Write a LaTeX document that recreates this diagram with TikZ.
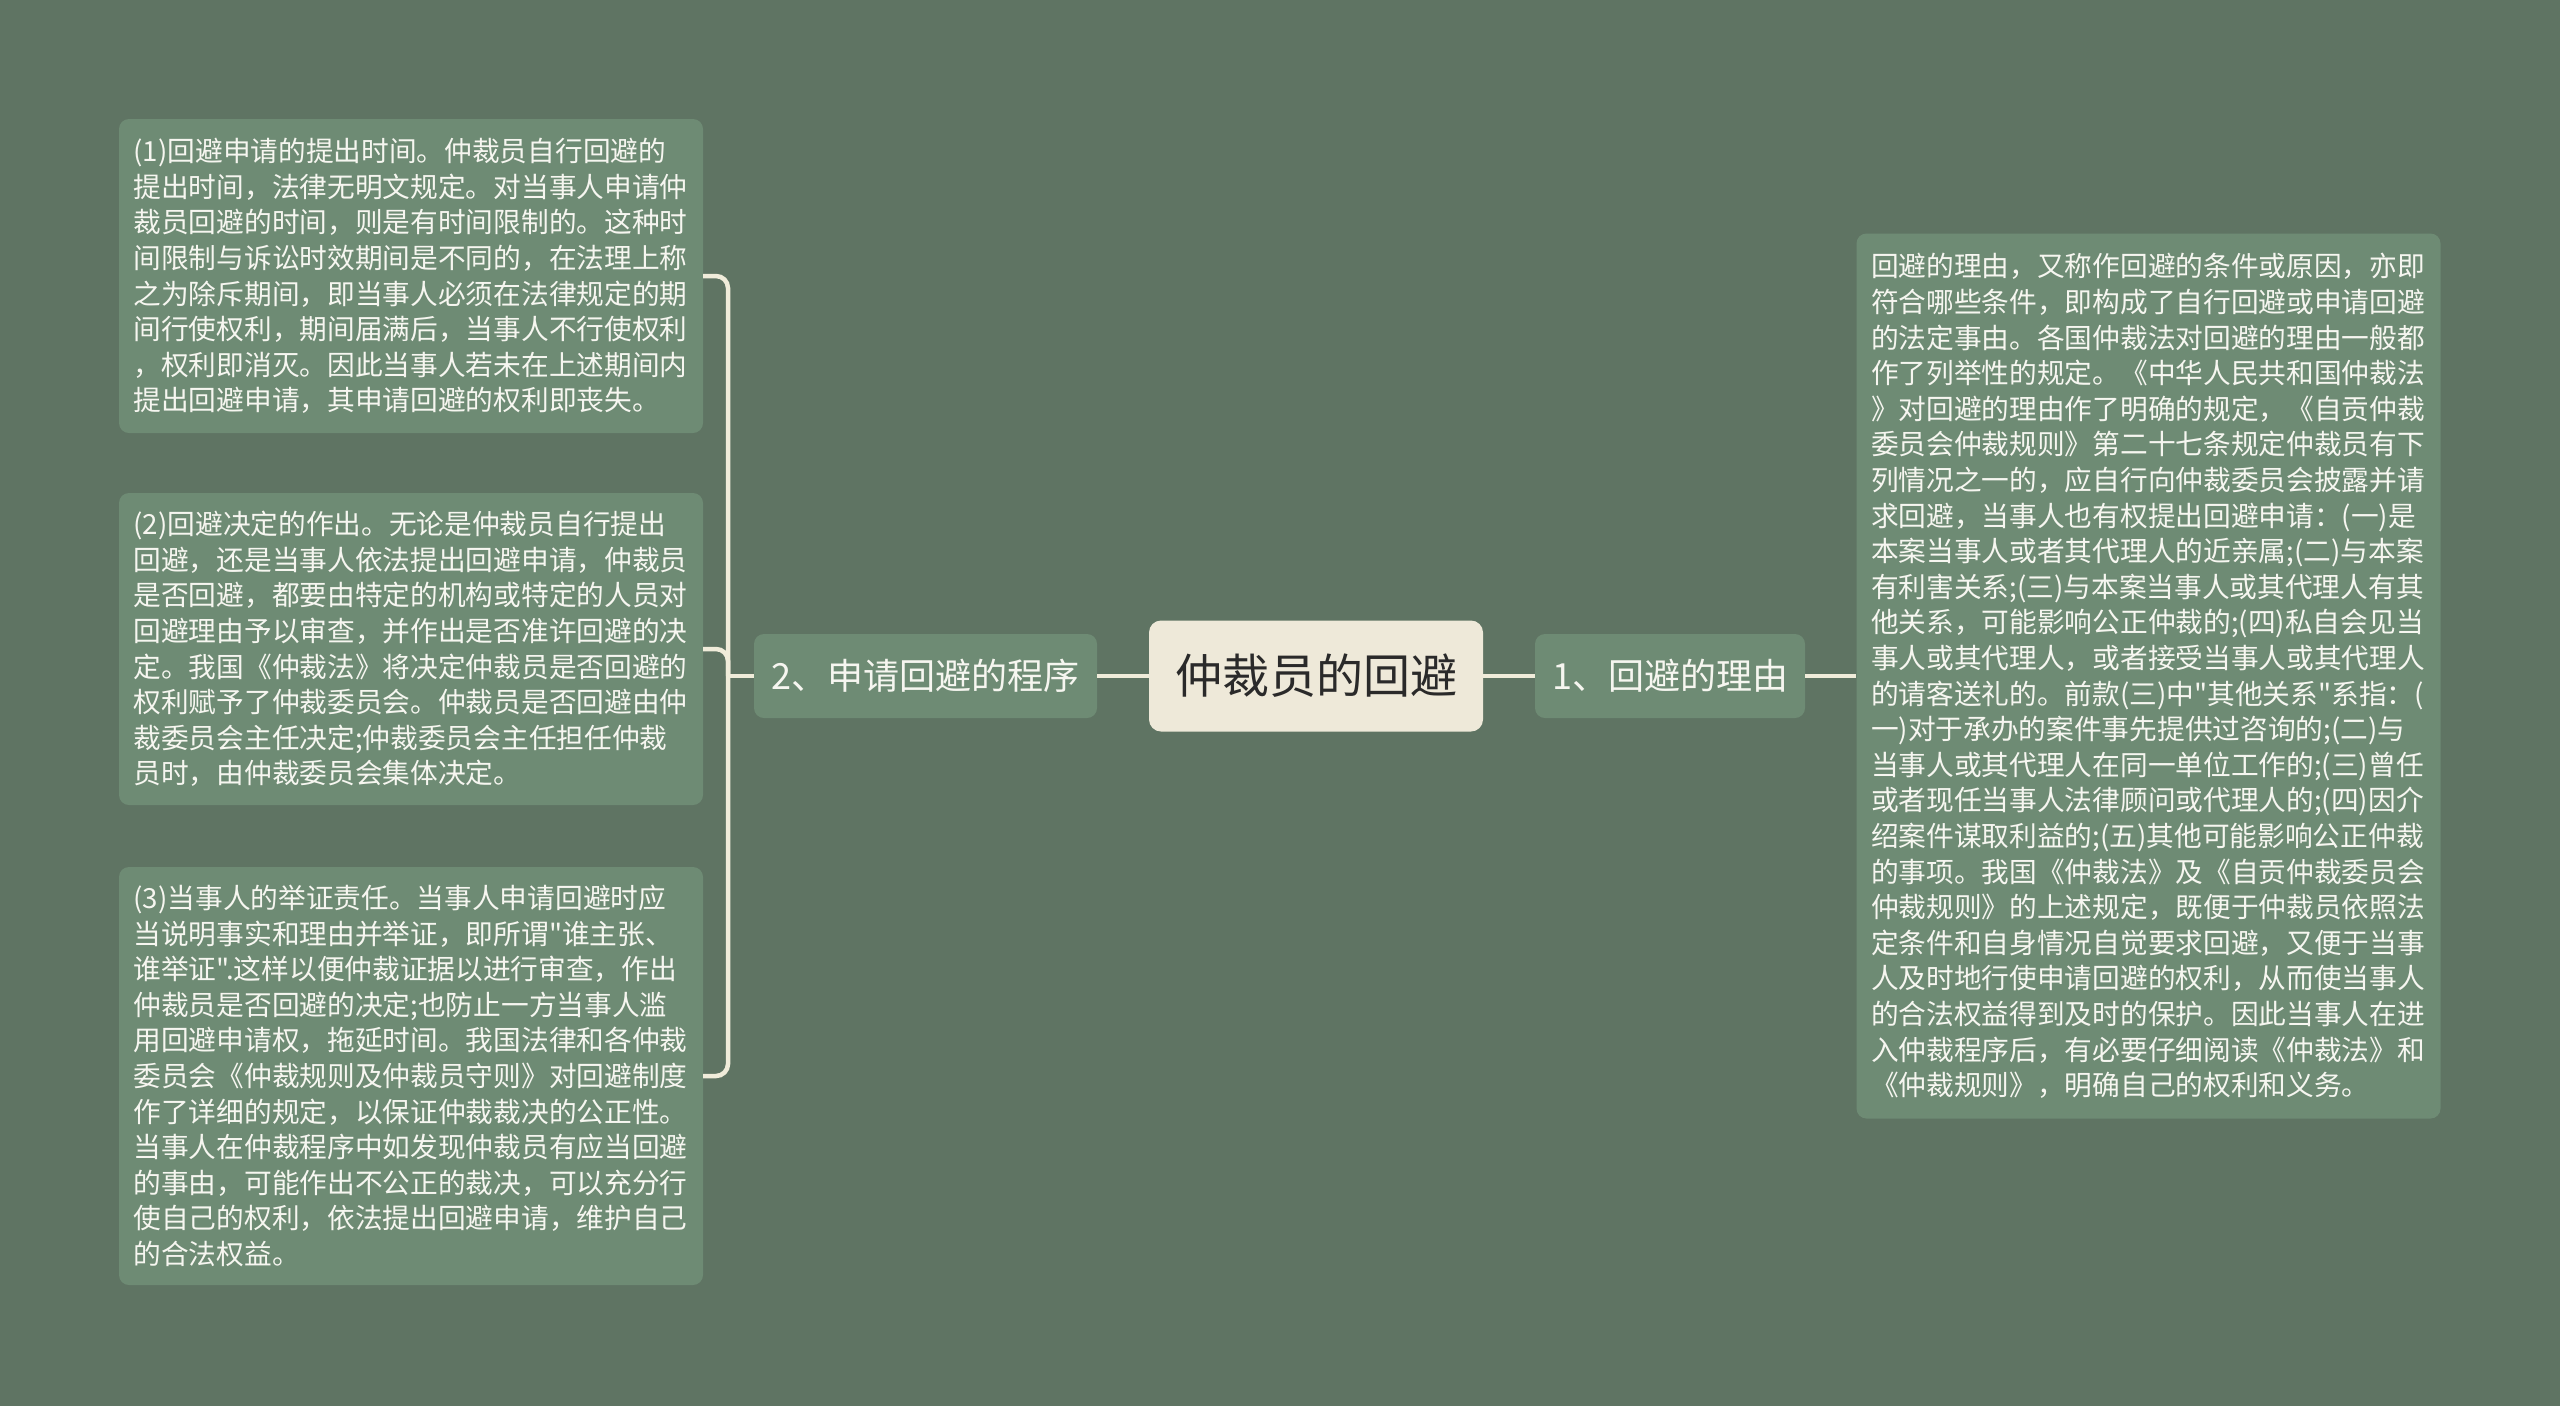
\documentclass[tikz,border=0pt]{standalone}
\usepackage{fontspec}
\newfontfamily\cjk{Noto Sans CJK SC}
\definecolor{bg}{HTML}{5F7463}
\definecolor{boxfill}{HTML}{6E8B74}
\definecolor{centerfill}{HTML}{EEE9D9}
\definecolor{linec}{HTML}{F0ECDA}
\definecolor{txt}{HTML}{F6F6F0}
\definecolor{ctxt}{HTML}{2A2A2A}
\begin{document}
\begin{tikzpicture}[x=1pt,y=-1pt,
  leaf/.style={rectangle, rounded corners=10pt, fill=boxfill, text=txt,
    font=\cjk\fontsize{27.7}{35.6}\selectfont, align=left, text width=555pt,
    inner xsep=14.5pt, inner ysep=0pt, minimum width=584pt},
  topic/.style={rectangle, rounded corners=10pt, fill=boxfill, text=txt,
    font=\cjk\fontsize{36}{40}\selectfont, inner sep=0pt, minimum height=84pt},
  root/.style={rectangle, rounded corners=12pt, fill=centerfill, text=ctxt,
    font=\cjk\fontsize{47}{52}\selectfont, inner sep=0pt, minimum width=334pt, minimum height=111pt},
  conn/.style={draw=linec, line width=4.5pt, rounded corners=12pt}]
\useasboundingbox (0,0) rectangle (2560,1406);
\fill[bg] (0,0) rectangle (2560,1406);

\node[root] (c) at (1316,676) {仲裁员的回避};
\node[topic, minimum width=343pt] (n2) at (925.5,676) {2、申请回避的程序};
\node[topic, minimum width=270pt] (n1) at (1670,676) {1、回避的理由};

\node[leaf, minimum height=314pt] (b1) at (411,276) {(1)回避申请的提出时间。仲裁员自行回避的\\
提出时间，法律无明文规定。对当事人申请仲\\
裁员回避的时间，则是有时间限制的。这种时\\
间限制与诉讼时效期间是不同的，在法理上称\\
之为除斥期间，即当事人必须在法律规定的期\\
间行使权利，期间届满后，当事人不行使权利\\
，权利即消灭。因此当事人若未在上述期间内\\
提出回避申请，其申请回避的权利即丧失。};

\node[leaf, minimum height=312pt] (b2) at (411,649) {(2)回避决定的作出。无论是仲裁员自行提出\\
回避，还是当事人依法提出回避申请，仲裁员\\
是否回避，都要由特定的机构或特定的人员对\\
回避理由予以审查，并作出是否准许回避的决\\
定。我国《仲裁法》将决定仲裁员是否回避的\\
权利赋予了仲裁委员会。仲裁员是否回避由仲\\
裁委员会主任决定;仲裁委员会主任担任仲裁\\
员时，由仲裁委员会集体决定。};

\node[leaf, minimum height=418pt] (b3) at (411,1076) {(3)当事人的举证责任。当事人申请回避时应\\
当说明事实和理由并举证，即所谓"谁主张、\\
谁举证".这样以便仲裁证据以进行审查，作出\\
仲裁员是否回避的决定;也防止一方当事人滥\\
用回避申请权，拖延时间。我国法律和各仲裁\\
委员会《仲裁规则及仲裁员守则》对回避制度\\
作了详细的规定，以保证仲裁裁决的公正性。\\
当事人在仲裁程序中如发现仲裁员有应当回避\\
的事由，可能作出不公正的裁决，可以充分行\\
使自己的权利，依法提出回避申请，维护自己\\
的合法权益。};

\node[leaf, minimum height=885pt] (rb) at (2148.5,676) {回避的理由，又称作回避的条件或原因，亦即\\
符合哪些条件，即构成了自行回避或申请回避\\
的法定事由。各国仲裁法对回避的理由一般都\\
作了列举性的规定。《中华人民共和国仲裁法\\
》对回避的理由作了明确的规定，《自贡仲裁\\
委员会仲裁规则》第二十七条规定仲裁员有下\\
列情况之一的，应自行向仲裁委员会披露并请\\
求回避，当事人也有权提出回避申请：(一)是\\
本案当事人或者其代理人的近亲属;(二)与本案\\
有利害关系;(三)与本案当事人或其代理人有其\\
他关系，可能影响公正仲裁的;(四)私自会见当\\
事人或其代理人，或者接受当事人或其代理人\\
的请客送礼的。前款(三)中"其他关系"系指：(\\
一)对于承办的案件事先提供过咨询的;(二)与\\
当事人或其代理人在同一单位工作的;(三)曾任\\
或者现任当事人法律顾问或代理人的;(四)因介\\
绍案件谋取利益的;(五)其他可能影响公正仲裁\\
的事项。我国《仲裁法》及《自贡仲裁委员会\\
仲裁规则》的上述规定，既便于仲裁员依照法\\
定条件和自身情况自觉要求回避，又便于当事\\
人及时地行使申请回避的权利，从而使当事人\\
的合法权益得到及时的保护。因此当事人在进\\
入仲裁程序后，有必要仔细阅读《仲裁法》和\\
《仲裁规则》，明确自己的权利和义务。};

\coordinate (bj) at (728,676);
\draw[conn] (b1.east) -| (bj);
\draw[conn] (b2.east) -| (bj);
\draw[conn] (b3.east) -| (bj);
\draw[conn] (bj) -- (n2.west);
\draw[conn] (n2.east) -- (c.west);
\draw[conn] (c.east) -- (n1.west);
\draw[conn] (n1.east) -- (rb.west);
\end{tikzpicture}
\end{document}
